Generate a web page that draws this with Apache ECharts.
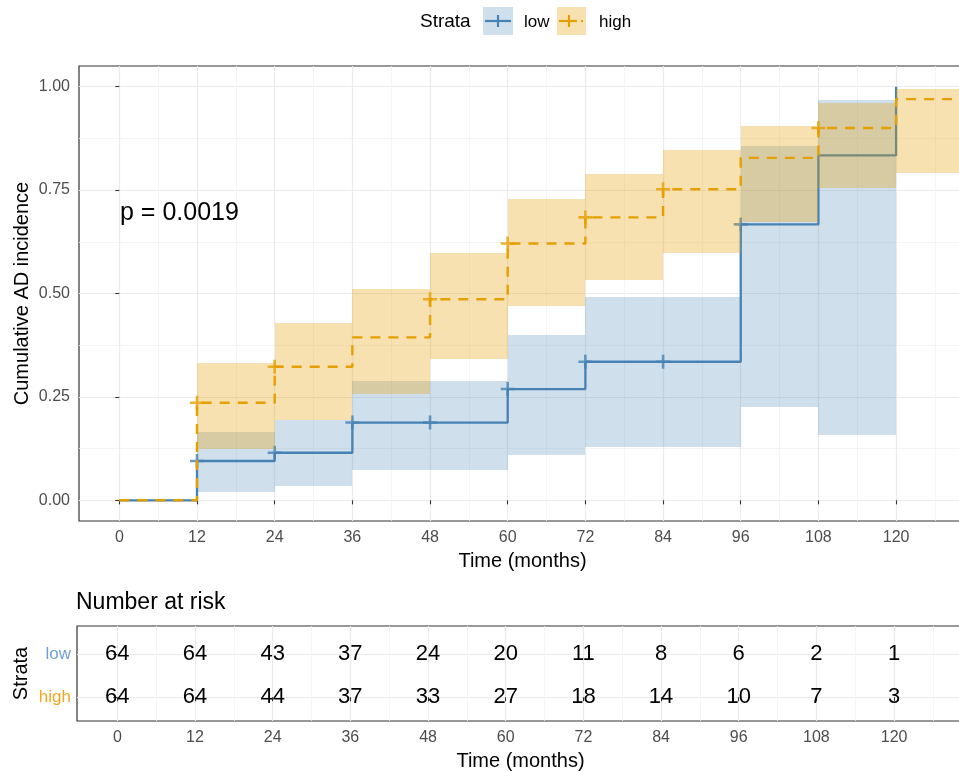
<!DOCTYPE html>
<html><head><meta charset="utf-8">
<script src="https://cdn.jsdelivr.net/npm/echarts@6/dist/echarts.min.js"></script>
<style>html,body{margin:0;padding:0;background:#fff}#c{width:959px;height:771px}</style>
</head><body><div id="c"></div>
<script>
// ---- axis ticks ----
const tickMonths = [0,12,24,36,48,60,72,84,96,108,120];
const minorMonths = [6,18,30,42,54,66,78,90,102,114,126];
const yTicks = [0,0.25,0.5,0.75,1];
const yMinor = [0.125,0.375,0.625,0.875];

// ---- low strata ----
const lowTime = [0,12,24,36,60,72,96,108,120];
const lowEst  = [0,0.095,0.115,0.188,0.269,0.335,0.667,0.834,1.0];
const lowBandStart = [12,24,36,60,72,96,108];
const lowBandEnd   = [24,36,60,72,96,108,120];
const lowLower = [0.020,0.034,0.074,0.109,0.129,0.226,0.157];
const lowUpper = [0.165,0.193,0.288,0.399,0.492,0.857,0.968];
const lowCensorT = [12,24,36,48,60,72,84,96];
const lowCensorY = [0.095,0.115,0.188,0.188,0.269,0.335,0.335,0.667];

// ---- high strata ----
const highTime = [0,12,24,36,48,60,72,84,96,108,120,131];
const highEst  = [0,0.236,0.323,0.394,0.486,0.621,0.684,0.752,0.828,0.900,0.970,0.970];
const highBandStart = [12,24,36,48,60,72,84,96,108,120];
const highBandEnd   = [24,36,48,60,72,84,96,108,120,131];
const highLower = [0.125,0.195,0.256,0.341,0.469,0.532,0.598,0.672,0.756,0.792];
const highUpper = [0.332,0.429,0.510,0.599,0.728,0.788,0.847,0.906,0.960,0.994];
const highCensorT = [12,24,48,60,72,84,108];
const highCensorY = [0.236,0.323,0.486,0.621,0.684,0.752,0.900];

// ---- number at risk ----
const riskTimes = [0,12,24,36,48,60,72,84,96,108,120];
const riskLow  = [64,64,43,37,24,20,11,8,6,2,1];
const riskHigh = [64,64,44,37,33,27,18,14,10,7,3];

const pValueText = 'p = 0.0019';

const BLUE = '#4682B4', ORANGE = '#E69F00';
const BLUE_FILL = 'rgba(70,130,180,0.26)', ORANGE_FILL = 'rgba(230,159,0,0.31)';
const FONT = 'Liberation Sans, Arial, sans-serif';
const plus = 'path://M-1.3,-7L1.3,-7L1.3,-1.3L7,-1.3L7,1.3L1.3,1.3L1.3,7L-1.3,7L-1.3,1.3L-7,1.3L-7,-1.3L-1.3,-1.3Z';
const XMIN = -6.23, XMAX = 130.8;

function xMajor(grid) {
  return {
    type:'value', gridIndex:grid, min:XMIN, max:XMAX,
    axisLine:{show:false},
    axisTick:{show:true, customValues:tickMonths, length:4, lineStyle:{color:'#333', width:1.1}},
    axisLabel:{show:true, customValues:tickMonths, color:'#4D4D4D', fontSize:16, margin:9, fontFamily:FONT},
    splitLine:{show:true, lineStyle:{color:'#EBEBEB', width:1.2}},
    name:'Time (months)', nameLocation:'middle', nameGap:30, nameMoveOverlap:false,
    nameTextStyle:{color:'#000', fontSize:20, fontFamily:FONT}
  };
}
function xMinor(grid) {
  return {
    type:'value', gridIndex:grid, min:XMIN, max:XMAX,
    axisLine:{show:false}, axisLabel:{show:false},
    axisTick:{show:false, customValues:minorMonths},
    splitLine:{show:true, lineStyle:{color:'#F3F3F3', width:0.8}}
  };
}
const pairs = (t, v) => t.map((x,i)=>[x, v[i]]);

function bandItem(fill) {
  return (params, api) => {
    const p0 = api.coord([api.value(0), api.value(3)]);
    const p1 = api.coord([api.value(1), api.value(2)]);
    const x0 = Math.round(p0[0]), x1 = Math.round(p1[0]);
    const y0 = Math.round(p0[1]), y1 = Math.round(p1[1]);
    return {type:'rect', shape:{x:x0, y:y0, width:x1-x0, height:y1-y0}, style:{fill:fill}};
  };
}
function riskItem(params, api) {
  const p = api.coord([api.value(0), api.value(1)]);
  return {type:'text', x:p[0], y:p[1], style:{text:String(api.value(2)), fontSize:22, fill:'#000', align:'center', verticalAlign:'middle', fontFamily:FONT}};
}
function txt(x, y, s, size, extra) {
  return Object.assign({type:'text', x:x, y:y, z:100, silent:true,
    style:{text:s, fontSize:size, fill:'#000', fontFamily:FONT, align:'left', verticalAlign:'middle'}}, extra || {});
}

const chart = echarts.init(document.getElementById('c'), null, {renderer:'canvas'});
chart.setOption({
  animation:false,
  backgroundColor:'#fff',
  textStyle:{fontFamily:FONT},
  grid:[
    {left:79, top:66, width:887, height:455, show:true, borderColor:'#333', borderWidth:1.2, backgroundColor:'transparent', outerBoundsMode:'none', containLabel:false},
    {left:77, top:626, width:887, height:95, show:true, borderColor:'#333', borderWidth:1.2, backgroundColor:'transparent', outerBoundsMode:'none', containLabel:false}
  ],
  xAxis:[ xMajor(0), xMinor(0), xMajor(1), xMinor(1) ],
  yAxis:[
    {type:'value', gridIndex:0, min:-0.05, max:1.05,
     axisLine:{show:false},
     axisTick:{show:true, customValues:yTicks, length:4, lineStyle:{color:'#333', width:1.1}},
     axisLabel:{show:true, customValues:yTicks, color:'#4D4D4D', fontSize:16, margin:9, formatter:v=>Number(v).toFixed(2)},
     splitLine:{show:true, lineStyle:{color:'#EBEBEB', width:1.2}},
     name:'Cumulative AD incidence', nameLocation:'middle', nameGap:47, nameRotate:90, nameMoveOverlap:false,
     nameTextStyle:{color:'#000', fontSize:20}},
    {type:'value', gridIndex:0, min:-0.05, max:1.05,
     axisLine:{show:false}, axisLabel:{show:false},
     axisTick:{show:false, customValues:yMinor},
     splitLine:{show:true, lineStyle:{color:'#F3F3F3', width:0.8}}},
    {type:'value', gridIndex:1, min:-0.55, max:1.65,
     axisLine:{show:false},
     axisTick:{show:true, customValues:[0,1], length:4, lineStyle:{color:'#333', width:1.1}},
     axisLabel:{show:true, customValues:[0,1], margin:6,
       formatter:v=> (v===1 ? '{lo|low}' : '{hi|high}'),
       rich:{lo:{color:'#6F9FD8', fontSize:17}, hi:{color:'#F3A524', fontSize:17}}},
     splitLine:{show:true, lineStyle:{color:'#EBEBEB', width:1.2}},
     name:'Strata', nameLocation:'middle', nameGap:46, nameRotate:90, nameMoveOverlap:false,
     nameTextStyle:{color:'#000', fontSize:20}}
  ],
  graphic:[
    txt(76, 603, 'Number at risk', 23),
    txt(120, 213, pValueText, 25),
    txt(420, 22, 'Strata', 19),
    {type:'rect', z:100, shape:{x:483, y:7, width:30, height:28}, style:{fill:BLUE_FILL}},
    {type:'line', z:101, shape:{x1:485, y1:21, x2:511, y2:21}, style:{stroke:BLUE, lineWidth:2.2}},
    {type:'line', z:101, shape:{x1:498, y1:15, x2:498, y2:27}, style:{stroke:BLUE, lineWidth:2.2}},
    txt(524, 22, 'low', 17),
    {type:'rect', z:100, shape:{x:557, y:7, width:29, height:28}, style:{fill:ORANGE_FILL}},
    {type:'line', z:101, shape:{x1:559, y1:21, x2:577, y2:21}, style:{stroke:ORANGE, lineWidth:2.2}},
    {type:'line', z:101, shape:{x1:581, y1:21, x2:583, y2:21}, style:{stroke:ORANGE, lineWidth:2.2}},
    {type:'line', z:101, shape:{x1:569, y1:15, x2:569, y2:27}, style:{stroke:ORANGE, lineWidth:2.2}},
    txt(599, 22, 'high', 17)
  ],
  series:[
    {type:'custom', name:'lowBand', xAxisIndex:0, yAxisIndex:0, clip:true, silent:true, z:1,
     data:lowBandStart.map((t,i)=>[t, lowBandEnd[i], lowLower[i], lowUpper[i]]),
     renderItem:bandItem(BLUE_FILL)},
    {type:'line', name:'low', xAxisIndex:0, yAxisIndex:0, step:'end', symbol:'none',
     data:pairs(lowTime, lowEst), lineStyle:{color:BLUE, width:2.3}, z:2},
    {type:'scatter', name:'lowCensor', xAxisIndex:0, yAxisIndex:0, symbol:plus, symbolSize:14,
     data:pairs(lowCensorT, lowCensorY), itemStyle:{color:BLUE}, z:2},
    {type:'custom', name:'highBand', xAxisIndex:0, yAxisIndex:0, clip:true, silent:true, z:3,
     data:highBandStart.map((t,i)=>[t, highBandEnd[i], highLower[i], highUpper[i]]),
     renderItem:bandItem(ORANGE_FILL)},
    {type:'line', name:'high', xAxisIndex:0, yAxisIndex:0, step:'end', symbol:'none',
     data:pairs(highTime, highEst), lineStyle:{color:ORANGE, width:2.4, type:[10,8]}, z:4},
    {type:'scatter', name:'highCensor', xAxisIndex:0, yAxisIndex:0, symbol:plus, symbolSize:14,
     data:pairs(highCensorT, highCensorY), itemStyle:{color:ORANGE}, z:4},
    {type:'custom', name:'riskLow', xAxisIndex:2, yAxisIndex:2, z:5,
     data:riskTimes.map((t,i)=>[t, 1, riskLow[i]]), renderItem:riskItem},
    {type:'custom', name:'riskHigh', xAxisIndex:2, yAxisIndex:2, z:5,
     data:riskTimes.map((t,i)=>[t, 0, riskHigh[i]]), renderItem:riskItem}
  ]
});
</script></body></html>
